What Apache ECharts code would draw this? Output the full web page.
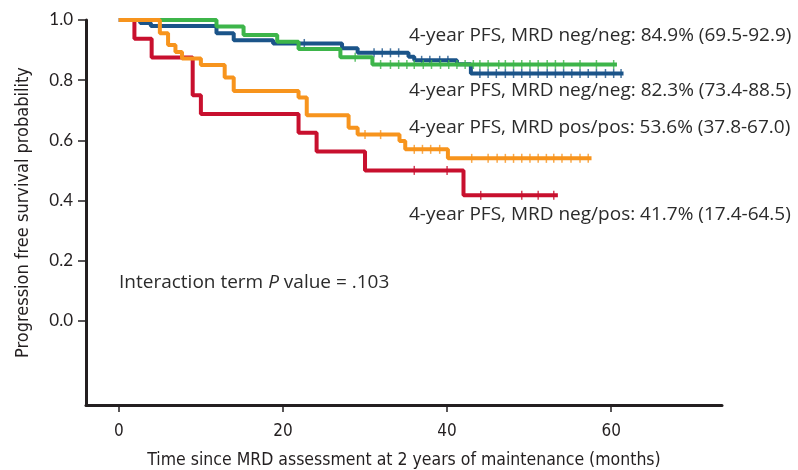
<!DOCTYPE html>
<html><head><meta charset="utf-8">
<script src="https://cdn.jsdelivr.net/npm/echarts@6/dist/echarts.min.js"></script>
<style>html,body{margin:0;padding:0;background:#fff}#c{width:798px;height:470px}</style>
</head><body><div id="c"></div>
<script>
// ---- data (months, survival probability) ----
const xTicks = [0, 20, 40, 60];
const yTicks = [0, 0.2, 0.4, 0.6, 0.8, 1.0];

const greenTimes = [0, 11.9, 15.2, 19.3, 21.9, 27.0, 30.9];
const greenSurv  = [1, 0.978, 0.95, 0.928, 0.904, 0.876, 0.852];
const greenEnd   = 60.7;
const greenCens  = [28.8, 31.9, 33.1, 34.1, 35.1, 36.0, 37.1, 38.1, 39.2, 40.2, 41.2, 42.2, 43.2, 44.0, 45.0, 46.3, 47.1, 48.1, 49.1, 50.1, 51.1, 52.2, 53.2, 54.2, 56.2, 58.2, 60.3];

const blueTimes = [0, 2.6, 3.9, 11.9, 14.0, 18.8, 27.2, 29.1, 35.3, 36.0, 41.2, 42.9];
const blueSurv  = [1, 0.99, 0.98, 0.956, 0.933, 0.922, 0.906, 0.891, 0.878, 0.866, 0.853, 0.822];
const blueEnd   = 61.5;
const blueCens  = [22.6, 31.1, 32.1, 33.1, 34.1, 36.9, 37.9, 39.1, 40.1, 44.0, 45.0, 46.0, 47.1, 48.1, 49.1, 50.1, 51.1, 52.2, 53.2, 54.2, 55.2, 56.2, 57.2, 58.2, 59.3, 60.3, 61.2];

const orangeTimes = [0, 5.0, 6.0, 6.9, 7.7, 10.0, 12.9, 14.0, 21.9, 22.9, 28.0, 29.1, 34.2, 34.9, 40.1];
const orangeSurv  = [1, 0.956, 0.917, 0.894, 0.872, 0.85, 0.809, 0.764, 0.742, 0.683, 0.642, 0.619, 0.598, 0.570, 0.540];
const orangeEnd   = 57.6;
const orangeCens  = [30.0, 31.9, 36.0, 37.0, 38.0, 39.1, 43.0, 45.0, 46.1, 47.1, 48.1, 49.1, 50.1, 51.1, 52.1, 53.0, 54.0, 55.1, 56.2, 57.2];

const redTimes = [0, 1.9, 4.0, 9.0, 10.0, 21.9, 24.1, 30.0, 42.0];
const redSurv  = [1, 0.9375, 0.875, 0.75, 0.6875, 0.625, 0.5625, 0.5, 0.417];
const redEnd   = 53.5;
const redCens  = [36.0, 40.0, 44.1, 49.1, 51.1, 53.0];

const labels = [
  '4-year PFS, MRD neg/neg: 84.9% (69.5-92.9)',
  '4-year PFS, MRD neg/neg: 82.3% (73.4-88.5)',
  '4-year PFS, MRD pos/pos: 53.6% (37.8-67.0)',
  '4-year PFS, MRD neg/pos: 41.7% (17.4-64.5)'
];

// ---- helpers ----
function stepData(t, s, end) {
  const d = t.map((v, i) => [v, s[i]]);
  d.push([end, s[s.length - 1]]);
  return d;
}
function survAt(t, s, x) {
  let v = s[0];
  for (let i = 0; i < t.length; i++) if (t[i] <= x) v = s[i];
  return v;
}
function censData(t, s, c) { return c.map(x => [x, survAt(t, s, x)]); }

const groups = [
  {t: blueTimes, s: blueSurv, e: blueEnd, c: blueCens, col: '#1b5489'},
  {t: greenTimes, s: greenSurv, e: greenEnd, c: greenCens, col: '#3db54a'},
  {t: redTimes, s: redSurv, e: redEnd, c: redCens, col: '#c8102e'},
  {t: orangeTimes, s: orangeSurv, e: orangeEnd, c: orangeCens, col: '#f7941d'}
];

const series = [];
groups.forEach((g, i) => {
  series.push({type: 'line', step: 'end', data: stepData(g.t, g.s, g.e), showSymbol: false,
    lineStyle: {color: g.col, width: 4}, z: 2 + i, silent: true, animation: false});
  series.push({type: 'scatter', data: censData(g.t, g.s, g.c), symbol: 'rect', symbolSize: [1.5, 9],
    itemStyle: {color: g.col}, z: 2 + i, silent: true, animation: false});
});

const txt = '#231f20';
const lab = '#2b2b2b';
const axFont = 'Liberation Sans Narrow, DejaVu Sans Condensed, sans-serif';
const annFont = '19px "Open Sans", sans-serif';
function ann(text, x, y) {
  return {type: 'text', x: x, y: y, style: {text: text, font: annFont, fill: lab, verticalAlign: 'middle', align: 'left'}};
}
const chart = echarts.init(document.getElementById('c'), null, {renderer: 'canvas'});
chart.setOption({
  animation: false,
  grid: {left: 86, right: 76, top: 20, bottom: 65, containLabel: false, outerBoundsMode: 'none'},
  xAxis: {
    type: 'value', min: -4, max: 73.5,
    name: 'Time since MRD assessment at 2 years of maintenance (months)',
    nameLocation: 'middle', nameGap: 46,
    nameTextStyle: {fontFamily: axFont, fontSize: 17.5, color: txt},
    axisLine: {onZero: false, lineStyle: {color: txt, width: 3}},
    axisTick: {customValues: xTicks, length: 7, lineStyle: {color: txt, width: 1.5}},
    axisLabel: {customValues: xTicks, margin: 18, fontSize: 17, color: txt, fontFamily: axFont},
    splitLine: {show: false}
  },
  yAxis: {
    type: 'value', min: -0.28, max: 1.0,
    name: 'Progression free survival probability',
    nameLocation: 'middle', nameGap: 54, nameRotate: 90,
    nameTextStyle: {fontFamily: axFont, fontSize: 18, color: txt},
    axisLine: {onZero: false, lineStyle: {color: txt, width: 3}},
    axisTick: {customValues: yTicks, length: 8, lineStyle: {color: txt, width: 1.5}},
    axisLabel: {customValues: yTicks, margin: 13, fontSize: 17, color: txt, fontFamily: 'Lato, sans-serif',
      formatter: v => v.toFixed(1)},
    splitLine: {show: false}
  },
  graphic: [
    ann(labels[0], 409, 36),
    ann(labels[1], 409, 91),
    ann(labels[2], 409, 128),
    ann(labels[3], 409, 215),
    {type: 'text', x: 119, y: 283, style: {
      text: '{a|Interaction term }{i|P}{a| value = .103}', verticalAlign: 'middle',
      rich: {a: {font: annFont, fill: lab}, i: {font: 'italic ' + annFont, fill: lab}}}}
  ],
  series: series
});
</script></body></html>
